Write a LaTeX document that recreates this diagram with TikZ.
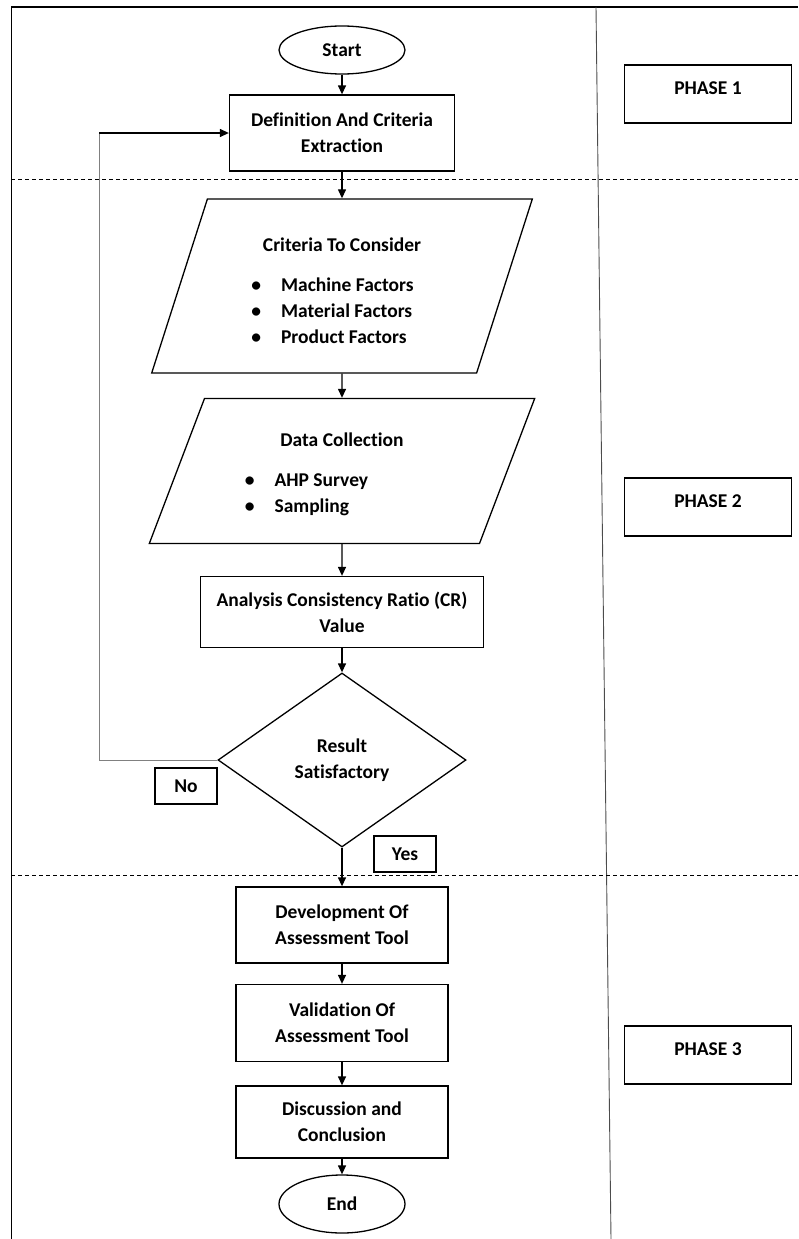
\documentclass[tikz,border=0pt]{standalone}
\usepackage{fontspec}
\setmainfont{Carlito}[Ligatures=NoCommon]
\usetikzlibrary{shapes.geometric,arrows.meta}

\begin{document}
\begin{tikzpicture}[x=1pt, y=-1pt, line width=1.3pt,
  >={Triangle[length=9pt,width=8pt]},
  every node/.style={font=\fontsize{19.5}{26}\selectfont\bfseries, align=center},
  process/.style={draw, rectangle, minimum width=#1, minimum height=74pt, inner sep=2pt},
  process/.default=212pt,
  terminal/.style={draw, ellipse, minimum width=126pt, minimum height=48pt, inner sep=0pt},
  io/.style={draw, trapezium, trapezium left angle=76, trapezium right angle=104,
    trapezium stretches=true, minimum width=#1, inner sep=0pt},
  io/.default=381pt,
  decision/.style={draw, diamond, minimum width=248pt, minimum height=174pt, inner sep=0pt},
  phasebox/.style={draw, minimum width=167pt, minimum height=58pt,
    text height=14pt, text depth=14pt, inner sep=0pt},
  answer/.style={draw, minimum width=62pt, minimum height=36pt, inner sep=0pt},
  divider/.style={dash pattern=on 4pt off 3pt, line width=0.9pt}]
\useasboundingbox (0,0) rectangle (798,1239);

% frame and phase lines
\draw[line width=2pt] (11,7) -- (798,7);
\draw[line width=0.9pt] (11,7) -- (11,1239);
\draw[line width=0.9pt, gray!60!black] (596,7) -- (611,1239);
\draw[divider] (11,179) -- (798,179);
\draw[divider] (11,875) -- (798,875);

% flow chart
\node[terminal] (start) at (342,50) {Start};
\node[process=225pt, minimum height=76pt] (defn) at (342,133) {Definition And Criteria\\Extraction};
\node[io=381pt, minimum height=174pt] (crit) at (342,286)
  {\rule{0pt}{31pt}Criteria To Consider\\[21pt]
   \hspace*{-19pt}\begin{tabular}{@{}l@{\hspace{20pt}}l@{}}
   \textbullet & Machine Factors\\
   \textbullet & Material Factors\\
   \textbullet & Product Factors
   \end{tabular}};
\node[io=386pt, minimum height=145pt] (data) at (342,471)
  {\rule{0pt}{25pt}Data Collection\\[21pt]
   \hspace*{-71pt}\begin{tabular}{@{}l@{\hspace{20pt}}l@{}}
   \textbullet & AHP Survey\\
   \textbullet & Sampling
   \end{tabular}};
\node[process=283pt, minimum height=71pt] (anal) at (342,612) {Analysis Consistency Ratio (CR)\\Value};
\node[decision] (result) at (342,760) {Result\\Satisfactory};
\node[answer] (no) at (186,786) {No};
\node[answer] (yes) at (405,854) {Yes};
\node[process, minimum height=76pt] (devel) at (342,925) {Development Of\\Assessment Tool};
\node[process, minimum height=77pt] (valid) at (342,1023) {Validation Of\\Assessment Tool};
\node[process, minimum height=72pt] (disc) at (342,1122) {Discussion and\\Conclusion};
\node[terminal, minimum height=58pt] (end) at (342,1204) {End};

% phases
\node[phasebox] (ph1) at (708,94) {PHASE 1};
\node[phasebox] (ph2) at (708,507) {PHASE 2};
\node[phasebox] (ph3) at (708,1055) {PHASE 3};

% arrows
\draw[->] (start) -- (defn);
\draw[->] (defn) -- (crit);
\draw[->] (crit) -- (data);
\draw[->] (data) -- (anal);
\draw[->] (anal) -- (result);
\draw[->] (result) -- (devel);
\draw[->] (devel) -- (valid);
\draw[->] (valid) -- (disc);
\draw[->] (disc) -- (end);
\coordinate (back) at (99,133);
\draw[gray, line width=0.9pt] (result.west) -| (back);
\draw[->] (back) -- (defn.west);
\end{tikzpicture}
\end{document}
